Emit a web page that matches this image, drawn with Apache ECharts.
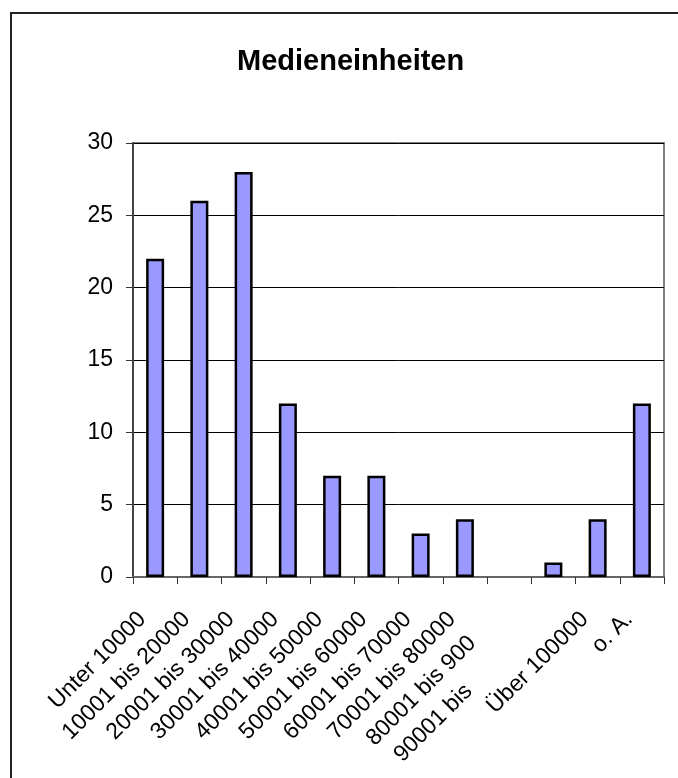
<!DOCTYPE html>
<html>
<head>
<meta charset="utf-8">
<script src="https://cdn.jsdelivr.net/npm/echarts@6/dist/echarts.min.js"></script>
<style>html,body{margin:0;padding:0;background:#fff;}#c{width:678px;height:778px;}</style>
</head>
<body>
<div id="c"></div>
<script>
var categories = ['Unter 10000','10001 bis 20000','20001 bis 30000','30001 bis 40000','40001 bis 50000','50001 bis 60000','60001 bis 70000','70001 bis 80000','80001 bis 90000','90001 bis 100000','Über 100000','o. A.'];
var shownLabels = ['Unter 10000','10001 bis 20000','20001 bis 30000','30001 bis 40000','40001 bis 50000','50001 bis 60000','60001 bis 70000','70001 bis 80000','80001 bis 900','90001 bis','Über 100000','o. A.'];
var values = [22, 26, 28, 12, 7, 7, 3, 4, 0, 1, 4, 12];
var yTicks = [0, 5, 10, 15, 20, 25, 30];

var chart = echarts.init(document.getElementById('c'));
var baseFont = {fontFamily: 'Liberation Sans', fontSize: 23, color: '#000'};
var richStyles = {
  n: Object.assign({}, baseFont, {padding: [0, 18, 0, 0]}),
  t8: Object.assign({}, baseFont, {padding: [0, 52, 0, 0]}),
  t9: Object.assign({}, baseFont, {padding: [0, 120, 0, 0]})
};
var barData = values.map(function (v) {
  return v === 0 ? {value: v, itemStyle: {borderWidth: 0}} : v;
});
chart.setOption({
  animation: false,
  title: {
    text: 'Medieneinheiten',
    left: 232, top: 42,
    textStyle: {fontFamily: 'Liberation Sans', fontWeight: 'bold', fontSize: 29, color: '#000'}
  },
  graphic: [{
    type: 'rect', shape: {x: 11, y: 13, width: 800, height: 900},
    style: {fill: 'none', stroke: '#222', lineWidth: 2}, silent: true
  }],
  grid: {left: 133, right: 14, top: 143, bottom: 201, show: true, borderColor: '#808080', borderWidth: 2, backgroundColor: 'transparent'},
  xAxis: {
    type: 'category',
    data: categories,
    axisLine: {lineStyle: {color: '#666', width: 2}},
    axisTick: {show: true, length: 7, lineStyle: {color: '#333', width: 1}},
    axisLabel: {
      interval: 0, rotate: 45, margin: 26,
      formatter: function (v, i) {
        var key = i === 8 ? 't8' : (i === 9 ? 't9' : 'n');
        return '{' + key + '|' + shownLabels[i] + '}';
      },
      rich: richStyles
    }
  },
  yAxis: {
    type: 'value', min: yTicks[0], max: yTicks[yTicks.length - 1], interval: 5,
    axisLine: {show: true, lineStyle: {color: '#444', width: 2}},
    axisTick: {show: true, length: 7, lineStyle: {color: '#333', width: 1}},
    axisLabel: {margin: 20, fontFamily: 'Liberation Sans', fontSize: 23, color: '#000'},
    splitLine: {lineStyle: {color: '#000', width: 1}}
  },
  series: [{
    type: 'bar', data: barData, barWidth: 18,
    itemStyle: {color: '#9999FF', borderColor: '#000', borderWidth: 2.5}
  }]
});
</script>
</body>
</html>
